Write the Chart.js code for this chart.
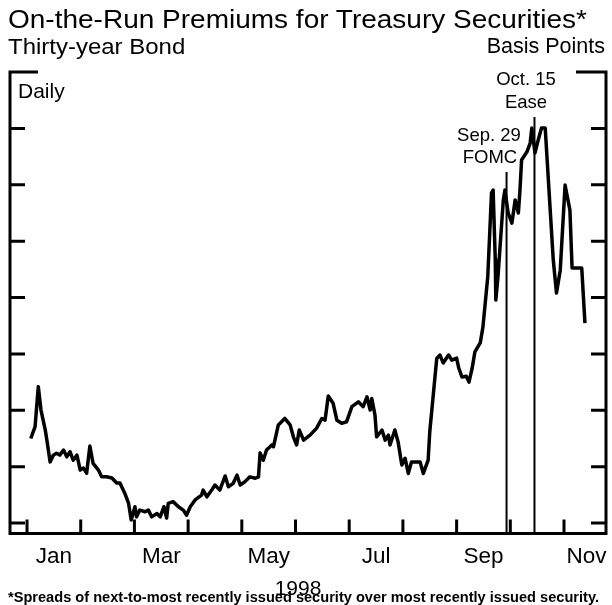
<!DOCTYPE html>
<html>
<head>
<meta charset="utf-8">
<script src="https://cdn.jsdelivr.net/npm/chart.js@4/dist/chart.umd.min.js"></script>
<style>
  body { margin: 0; background: #fff; }
  #wrap { position: relative; width: 612px; height: 605px; overflow: hidden; font-family: Arial, "Liberation Sans", sans-serif; color: #000; }
  #wrap canvas { position: absolute; left: 0; top: 0; }
  .t { position: absolute; white-space: nowrap; transform-origin: 0 0; }
  .c { text-align: center; width: 120px; }
</style>
</head>
<body>
<div id="wrap">
  <canvas id="chart" width="612" height="605"></canvas>
  <div class="t" style="left:8px; top:7px; font-size:25px; line-height:25px; transform:scaleX(1.12);">On-the-Run Premiums for Treasury Securities*</div>
  <div class="t" style="left:8px; top:36px; font-size:22px; line-height:22px; transform:scaleX(1.09);">Thirty-year Bond</div>
  <div class="t" style="right:7px; top:36.4px; font-size:21.5px; line-height:21.5px;">Basis Points</div>
  <div class="t" style="left:18px; top:79.5px; font-size:21px; line-height:21px;">Daily</div>
  <div class="t c" style="left:466px; top:70.3px; font-size:18.5px; line-height:18.5px;">Oct. 15</div>
  <div class="t c" style="left:466px; top:92.6px; font-size:18.5px; line-height:18.5px;">Ease</div>
  <div class="t c" style="left:429px; top:126px; font-size:18.5px; line-height:18.5px;">Sep. 29</div>
  <div class="t c" style="left:430px; top:147.6px; font-size:18.5px; line-height:18.5px;">FOMC</div>
  <div class="t c" style="left:238px; top:577px; font-size:21px; line-height:21px;">1998</div>
  <div class="t" style="left:8px; top:590px; font-size:14.6px; line-height:14.6px; font-weight:bold;">*Spreads of next-to-most recently issued security over most recently issued security.</div>
</div>
<script>
// x positions in months since Jan 1 1998 (Jan = 0)
const premMonth = [0.07,0.15,0.21,0.26,0.34,0.37,0.43,0.49,0.55,0.61,
  0.68,0.74,0.80,0.86,0.93,0.99,1.05,1.11,1.17,1.23,
  1.33,1.39,1.48,1.58,1.67,1.73,1.82,1.89,1.94,2.01,
  2.04,2.10,2.20,2.26,2.32,2.42,2.48,2.55,2.60,2.63,
  2.72,2.82,2.91,2.97,3.04,3.13,3.25,3.28,3.35,3.44,
  3.50,3.59,3.69,3.75,3.84,3.91,3.97,4.06,4.15,4.25,
  4.31,4.34,4.40,4.46,4.56,4.59,4.68,4.80,4.90,4.96,
  5.02,5.07,5.15,5.27,5.39,5.49,5.55,5.61,5.70,5.77,
  5.86,5.95,6.05,6.17,6.26,6.33,6.39,6.42,6.48,6.51,
  6.61,6.67,6.73,6.76,6.85,6.91,6.98,7.04,7.10,7.16,
  7.32,7.38,7.47,7.50,7.63,7.69,7.75,7.85,7.91,8.00,
  8.04,8.10,8.18,8.23,8.29,8.34,8.44,8.49,8.58,8.65,
  8.68,8.72,8.73,8.77,8.87,8.90,8.96,9.03,9.09,9.15,
  9.18,9.21,9.31,9.37,9.40,9.46,9.52,9.58,9.65,9.80,
  9.86,9.93,10.02,10.11,10.15,10.33,10.39];

// premium, basis points (axis is unlabelled, one tick = 2 bp assumed)
const premBp = [3.00,3.42,4.84,4.01,3.30,2.94,2.17,2.41,2.48,2.41,
  2.59,2.35,2.53,2.23,2.41,1.88,1.95,1.77,2.73,2.12,
  1.88,1.64,1.64,1.60,1.42,1.42,1.06,0.71,0.11,0.58,
  0.22,0.46,0.40,0.46,0.22,0.34,0.22,0.58,0.18,0.70,
  0.76,0.58,0.46,0.28,0.58,0.82,0.99,1.17,0.93,1.17,
  1.35,1.17,1.67,1.29,1.41,1.70,1.35,1.47,1.64,1.59,
  1.64,2.49,2.23,2.59,2.77,2.71,3.48,3.71,3.48,3.06,
  2.77,3.30,2.94,3.12,3.36,3.71,3.65,4.51,4.25,3.65,
  3.54,3.59,4.13,4.30,4.13,4.48,4.01,4.42,3.83,3.06,
  3.30,2.94,3.12,2.77,3.30,2.88,2.06,2.30,1.76,2.17,
  2.17,1.76,2.23,3.24,5.84,5.96,5.68,5.96,5.78,5.85,
  5.50,5.18,5.21,5.00,5.50,6.07,6.39,6.95,8.73,11.71,
  11.81,9.33,7.91,8.73,11.46,11.81,11.00,10.64,11.46,11.00,
  11.81,12.88,13.17,13.48,14.01,13.13,13.59,14.01,14.01,9.33,
  8.16,8.97,11.99,11.10,9.05,9.05,7.09];

// event markers: Sep. 29 FOMC, Oct. 15 ease
const eventMonth = [8.93, 9.45];
const eventTop = [12.45, 14.4];

const monthTicks = [0,1,2,3,4,5,6,7,8,9,10];
const labelPos = [0.5, 2.5, 4.5, 6.5, 8.5, 10.42];
const labelNames = ["Jan", "Mar", "May", "Jul", "Sep", "Nov"];
const yTicks = [0,2,4,6,8,10,12,14];

const X_MIN = -0.317, X_MAX = 10.782, Y_MIN = -0.37, Y_MAX = 16;

// frame with inward tick marks (open at the top) and month labels
const framePlugin = {
  id: "frame",
  afterDatasetsDraw(chart) {
    const { ctx, chartArea: a, scales: { x, y } } = chart;
    ctx.save();
    ctx.strokeStyle = "#000";
    ctx.lineWidth = 3;
    ctx.lineCap = "butt";
    ctx.lineJoin = "miter";
    ctx.beginPath();
    ctx.moveTo(a.left + 28, a.top);
    ctx.lineTo(a.left, a.top);
    ctx.lineTo(a.left, a.bottom);
    ctx.lineTo(a.right, a.bottom);
    ctx.lineTo(a.right, a.top);
    ctx.lineTo(a.right - 30, a.top);
    ctx.stroke();
    ctx.beginPath();
    yTicks.forEach((v) => {
      const py = y.getPixelForValue(v);
      ctx.moveTo(a.left, py);
      ctx.lineTo(a.left + 15, py);
      ctx.moveTo(a.right, py);
      ctx.lineTo(a.right - 15, py);
    });
    monthTicks.forEach((v) => {
      const px = x.getPixelForValue(v);
      ctx.moveTo(px, a.bottom);
      ctx.lineTo(px, a.bottom - 14);
    });
    ctx.stroke();

    ctx.fillStyle = "#000";
    ctx.font = "22.5px Arial, 'Liberation Sans', sans-serif";
    ctx.textAlign = "center";
    ctx.textBaseline = "alphabetic";
    labelPos.forEach((v, i) => {
      ctx.fillText(labelNames[i], x.getPixelForValue(v), a.bottom + 29);
    });
    ctx.restore();
  },
};

const lineData = premMonth.map((m, i) => ({ x: m, y: premBp[i] }));
const eventSets = eventMonth.map((m, i) => ({
  data: [{ x: m, y: Y_MIN }, { x: m, y: eventTop[i] }],
  borderColor: "#000",
  borderWidth: 2,
  pointRadius: 0,
}));

new Chart(document.getElementById("chart"), {
  type: "line",
  data: {
    datasets: [
      {
        data: lineData,
        borderColor: "#000",
        borderWidth: 3.5,
        borderJoinStyle: "round",
        pointRadius: 0,
        tension: 0,
      },
      ...eventSets,
    ],
  },
  options: {
    responsive: false,
    animation: false,
    events: [],
    layout: { padding: { left: 10, right: 6, top: 72, bottom: 71.5 } },
    plugins: { legend: { display: false }, tooltip: { enabled: false } },
    scales: {
      x: { type: "linear", display: false, min: X_MIN, max: X_MAX },
      y: { display: false, min: Y_MIN, max: Y_MAX },
    },
  },
  plugins: [framePlugin],
});
</script>
</body>
</html>
